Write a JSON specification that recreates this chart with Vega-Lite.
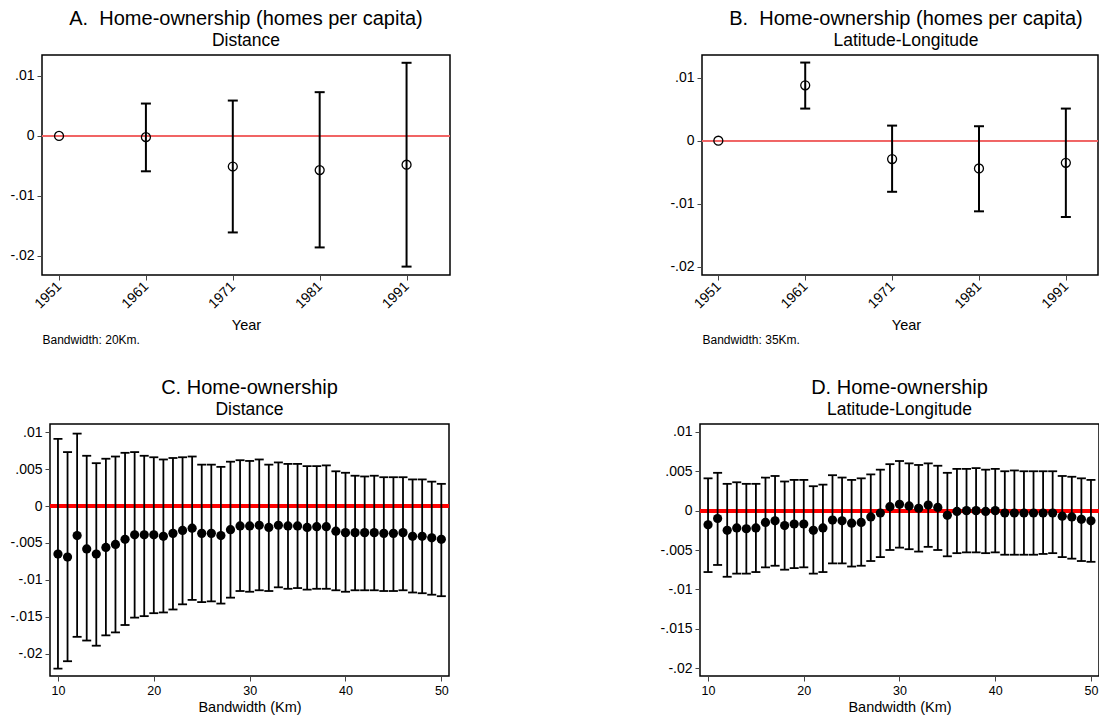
{
  "$schema": "https://vega.github.io/schema/vega-lite/v6.json",
  "padding": {"left": 8, "top": 7, "right": 0, "bottom": 0},
  "background": "white",
  "datasets": {
    "a": [
      {"year": 1951, "b": 0},
      {"year": 1961, "b": -0.0002, "lo": -0.0059, "hi": 0.0054},
      {"year": 1971, "b": -0.0051, "lo": -0.0161, "hi": 0.0059},
      {"year": 1981, "b": -0.0057, "lo": -0.0186, "hi": 0.0073},
      {"year": 1991, "b": -0.0048, "lo": -0.0218, "hi": 0.0122}
    ],
    "bb": [
      {"year": 1951, "b": 0},
      {"year": 1961, "b": 0.0088, "lo": 0.0051, "hi": 0.0124},
      {"year": 1971, "b": -0.0029, "lo": -0.0081, "hi": 0.0024},
      {"year": 1981, "b": -0.0044, "lo": -0.0112, "hi": 0.0023},
      {"year": 1991, "b": -0.0035, "lo": -0.0121, "hi": 0.0051}
    ],
    "c": [
      {"bw": 10, "b": -0.0065, "lo": -0.0220, "hi": 0.0091},
      {"bw": 11, "b": -0.0069, "lo": -0.0210, "hi": 0.0073},
      {"bw": 12, "b": -0.0040, "lo": -0.0177, "hi": 0.0098},
      {"bw": 13, "b": -0.0058, "lo": -0.0182, "hi": 0.0068},
      {"bw": 14, "b": -0.0065, "lo": -0.0189, "hi": 0.0058},
      {"bw": 15, "b": -0.0056, "lo": -0.0175, "hi": 0.0064},
      {"bw": 16, "b": -0.0052, "lo": -0.0171, "hi": 0.0067},
      {"bw": 17, "b": -0.0045, "lo": -0.0161, "hi": 0.0072},
      {"bw": 18, "b": -0.0039, "lo": -0.0151, "hi": 0.0073},
      {"bw": 19, "b": -0.0039, "lo": -0.0149, "hi": 0.0068},
      {"bw": 20, "b": -0.0039, "lo": -0.0145, "hi": 0.0066},
      {"bw": 21, "b": -0.0041, "lo": -0.0144, "hi": 0.0063},
      {"bw": 22, "b": -0.0037, "lo": -0.0140, "hi": 0.0065},
      {"bw": 23, "b": -0.0033, "lo": -0.0133, "hi": 0.0066},
      {"bw": 24, "b": -0.0030, "lo": -0.0127, "hi": 0.0067},
      {"bw": 25, "b": -0.0037, "lo": -0.0130, "hi": 0.0056},
      {"bw": 26, "b": -0.0037, "lo": -0.0129, "hi": 0.0056},
      {"bw": 27, "b": -0.0040, "lo": -0.0132, "hi": 0.0053},
      {"bw": 28, "b": -0.0032, "lo": -0.0124, "hi": 0.0060},
      {"bw": 29, "b": -0.0027, "lo": -0.0115, "hi": 0.0062},
      {"bw": 30, "b": -0.0027, "lo": -0.0116, "hi": 0.0061},
      {"bw": 31, "b": -0.0026, "lo": -0.0114, "hi": 0.0063},
      {"bw": 32, "b": -0.0029, "lo": -0.0115, "hi": 0.0056},
      {"bw": 33, "b": -0.0026, "lo": -0.0110, "hi": 0.0059},
      {"bw": 34, "b": -0.0027, "lo": -0.0112, "hi": 0.0057},
      {"bw": 35, "b": -0.0027, "lo": -0.0111, "hi": 0.0057},
      {"bw": 36, "b": -0.0029, "lo": -0.0113, "hi": 0.0054},
      {"bw": 37, "b": -0.0028, "lo": -0.0112, "hi": 0.0054},
      {"bw": 38, "b": -0.0028, "lo": -0.0112, "hi": 0.0055},
      {"bw": 39, "b": -0.0034, "lo": -0.0114, "hi": 0.0047},
      {"bw": 40, "b": -0.0036, "lo": -0.0116, "hi": 0.0045},
      {"bw": 41, "b": -0.0036, "lo": -0.0114, "hi": 0.0041},
      {"bw": 42, "b": -0.0036, "lo": -0.0114, "hi": 0.0040},
      {"bw": 43, "b": -0.0036, "lo": -0.0114, "hi": 0.0041},
      {"bw": 44, "b": -0.0037, "lo": -0.0115, "hi": 0.0039},
      {"bw": 45, "b": -0.0037, "lo": -0.0115, "hi": 0.0039},
      {"bw": 46, "b": -0.0036, "lo": -0.0114, "hi": 0.0039},
      {"bw": 47, "b": -0.0041, "lo": -0.0117, "hi": 0.0036},
      {"bw": 48, "b": -0.0041, "lo": -0.0118, "hi": 0.0036},
      {"bw": 49, "b": -0.0043, "lo": -0.0120, "hi": 0.0033},
      {"bw": 50, "b": -0.0045, "lo": -0.0122, "hi": 0.0030}
    ],
    "d": [
      {"bw": 10, "b": -0.0018, "lo": -0.0078, "hi": 0.0041},
      {"bw": 11, "b": -0.0010, "lo": -0.0069, "hi": 0.0048},
      {"bw": 12, "b": -0.0025, "lo": -0.0084, "hi": 0.0034},
      {"bw": 13, "b": -0.0022, "lo": -0.0080, "hi": 0.0036},
      {"bw": 14, "b": -0.0023, "lo": -0.0080, "hi": 0.0034},
      {"bw": 15, "b": -0.0022, "lo": -0.0078, "hi": 0.0034},
      {"bw": 16, "b": -0.0015, "lo": -0.0072, "hi": 0.0042},
      {"bw": 17, "b": -0.0013, "lo": -0.0070, "hi": 0.0044},
      {"bw": 18, "b": -0.0019, "lo": -0.0075, "hi": 0.0037},
      {"bw": 19, "b": -0.0017, "lo": -0.0073, "hi": 0.0039},
      {"bw": 20, "b": -0.0017, "lo": -0.0072, "hi": 0.0039},
      {"bw": 21, "b": -0.0025, "lo": -0.0080, "hi": 0.0031},
      {"bw": 22, "b": -0.0022, "lo": -0.0078, "hi": 0.0033},
      {"bw": 23, "b": -0.0012, "lo": -0.0067, "hi": 0.0045},
      {"bw": 24, "b": -0.0013, "lo": -0.0067, "hi": 0.0042},
      {"bw": 25, "b": -0.0016, "lo": -0.0071, "hi": 0.0039},
      {"bw": 26, "b": -0.0015, "lo": -0.0070, "hi": 0.0041},
      {"bw": 27, "b": -0.0008, "lo": -0.0064, "hi": 0.0046},
      {"bw": 28, "b": -0.0003, "lo": -0.0059, "hi": 0.0052},
      {"bw": 29, "b": 0.0005, "lo": -0.0050, "hi": 0.0059},
      {"bw": 30, "b": 0.0008, "lo": -0.0047, "hi": 0.0063},
      {"bw": 31, "b": 0.0006, "lo": -0.0049, "hi": 0.0060},
      {"bw": 32, "b": 0.0003, "lo": -0.0052, "hi": 0.0058},
      {"bw": 33, "b": 0.0007, "lo": -0.0046, "hi": 0.0060},
      {"bw": 34, "b": 0.0004, "lo": -0.0050, "hi": 0.0057},
      {"bw": 35, "b": -0.0006, "lo": -0.0058, "hi": 0.0048},
      {"bw": 36, "b": -0.0001, "lo": -0.0054, "hi": 0.0053},
      {"bw": 37, "b": 0.0000, "lo": -0.0053, "hi": 0.0053},
      {"bw": 38, "b": 0.0000, "lo": -0.0053, "hi": 0.0054},
      {"bw": 39, "b": -0.0001, "lo": -0.0054, "hi": 0.0052},
      {"bw": 40, "b": 0.0000, "lo": -0.0053, "hi": 0.0053},
      {"bw": 41, "b": -0.0003, "lo": -0.0056, "hi": 0.0050},
      {"bw": 42, "b": -0.0003, "lo": -0.0056, "hi": 0.0051},
      {"bw": 43, "b": -0.0003, "lo": -0.0056, "hi": 0.0050},
      {"bw": 44, "b": -0.0003, "lo": -0.0056, "hi": 0.0050},
      {"bw": 45, "b": -0.0003, "lo": -0.0055, "hi": 0.0050},
      {"bw": 46, "b": -0.0003, "lo": -0.0054, "hi": 0.0050},
      {"bw": 47, "b": -0.0007, "lo": -0.0059, "hi": 0.0044},
      {"bw": 48, "b": -0.0008, "lo": -0.0061, "hi": 0.0043},
      {"bw": 49, "b": -0.0011, "lo": -0.0064, "hi": 0.0041},
      {"bw": 50, "b": -0.0013, "lo": -0.0065, "hi": 0.0039}
    ]
  },
  "vconcat": [
    {
      "hconcat": [
        {"width": 1, "height": 1, "view": {"stroke": null}, "data": {"values": []}, "mark": "point", "encoding": {}},
        {
          "hconcat": [
            {
              "width": 408, "height": 220,
              "title": {"text": "A.\u00a0\u00a0Home-ownership (homes per capita)", "subtitle": "Distance"},
              "data": {"name": "a"},
              "layer": [
                {
                  "layer": [
                    {"mark": {"type": "rule", "color": "#f06464", "strokeWidth": 1.5},
                     "encoding": {"y": {"datum": 0, "type": "quantitative",
                       "scale": {"domain": [-0.0232, 0.0135], "nice": false, "zero": false},
                       "axis": {"values": [-0.02, -0.01, 0, 0.01], "title": null,
                         "labelExpr": "datum.value == 0 ? '0' : (datum.value < 0 ? '-' : '') + replace(format(abs(datum.value), '~g'), '0.', '.')"}}}},
                    {"transform": [{"filter": "isValid(datum.lo)"}],
                     "mark": {"type": "rule", "color": "black", "strokeWidth": 2},
                     "encoding": {"x": {"field": "year", "type": "quantitative"}, "y": {"field": "lo", "type": "quantitative"}, "y2": {"field": "hi"}}},
                    {"transform": [{"filter": "isValid(datum.lo)"}],
                     "mark": {"type": "tick", "orient": "horizontal", "size": 10, "thickness": 2, "color": "black", "opacity": 1},
                     "encoding": {"x": {"field": "year", "type": "quantitative"}, "y": {"field": "lo", "type": "quantitative"}}},
                    {"mark": {"type": "point", "shape": "circle", "filled": false, "stroke": "black", "strokeWidth": 1.3, "size": 80, "opacity": 1},
                     "encoding": {"x": {"field": "year", "type": "quantitative",
                       "scale": {"domain": [1949.04, 1996], "nice": false, "zero": false},
                       "axis": {"values": [1951, 1961, 1971, 1981, 1991], "format": "d", "labelAngle": -45, "labelAlign": "right", "labelBaseline": "middle", "labelPadding": 4, "title": "Year", "titlePadding": 8}},
                       "y": {"field": "b", "type": "quantitative"}}}
                  ]
                },
                {"transform": [{"filter": "isValid(datum.hi)"}],
                 "mark": {"type": "tick", "orient": "horizontal", "size": 10, "thickness": 2, "color": "black", "opacity": 1},
                 "encoding": {"x": {"field": "year", "type": "quantitative",
                   "scale": {"domain": [1949.04, 1996], "nice": false, "zero": false},
                   "axis": {"orient": "bottom", "labels": false, "ticks": false, "domain": false, "offset": 59, "title": "Bandwidth: 20Km.", "titleAnchor": "start", "titleFontSize": 12, "titlePadding": 0}},
                   "y": {"field": "hi", "type": "quantitative"}}}
              ],
              "resolve": {"scale": {"x": "independent"}, "axis": {"x": "independent"}}
            },
            {
              "width": 396, "height": 220,
              "title": {"text": "B.\u00a0\u00a0Home-ownership (homes per capita)", "subtitle": "Latitude-Longitude", "dx": 6},
              "data": {"name": "bb"},
              "layer": [
                {
                  "layer": [
                    {"mark": {"type": "rule", "color": "#f06464", "strokeWidth": 1.5},
                     "encoding": {"y": {"datum": 0, "type": "quantitative",
                       "scale": {"domain": [-0.0213, 0.0136], "nice": false, "zero": false},
                       "axis": {"values": [-0.02, -0.01, 0, 0.01], "title": null,
                         "labelExpr": "datum.value == 0 ? '0' : (datum.value < 0 ? '-' : '') + replace(format(abs(datum.value), '~g'), '0.', '.')"}}}},
                    {"transform": [{"filter": "isValid(datum.lo)"}],
                     "mark": {"type": "rule", "color": "black", "strokeWidth": 2},
                     "encoding": {"x": {"field": "year", "type": "quantitative"}, "y": {"field": "lo", "type": "quantitative"}, "y2": {"field": "hi"}}},
                    {"transform": [{"filter": "isValid(datum.lo)"}],
                     "mark": {"type": "tick", "orient": "horizontal", "size": 10, "thickness": 2, "color": "black", "opacity": 1},
                     "encoding": {"x": {"field": "year", "type": "quantitative"}, "y": {"field": "lo", "type": "quantitative"}}},
                    {"mark": {"type": "point", "shape": "circle", "filled": false, "stroke": "black", "strokeWidth": 1.3, "size": 80, "opacity": 1},
                     "encoding": {"x": {"field": "year", "type": "quantitative",
                       "scale": {"domain": [1949.12, 1994.7], "nice": false, "zero": false},
                       "axis": {"values": [1951, 1961, 1971, 1981, 1991], "format": "d", "labelAngle": -45, "labelAlign": "right", "labelBaseline": "middle", "labelPadding": 4, "title": "Year", "titlePadding": 8, "titleX": 204}},
                       "y": {"field": "b", "type": "quantitative"}}}
                  ]
                },
                {"transform": [{"filter": "isValid(datum.hi)"}],
                 "mark": {"type": "tick", "orient": "horizontal", "size": 10, "thickness": 2, "color": "black", "opacity": 1},
                 "encoding": {"x": {"field": "year", "type": "quantitative",
                   "scale": {"domain": [1949.12, 1994.7], "nice": false, "zero": false},
                   "axis": {"orient": "bottom", "labels": false, "ticks": false, "domain": false, "offset": 59, "title": "Bandwidth: 35Km.", "titleAnchor": "start", "titleFontSize": 12, "titlePadding": 0}},
                   "y": {"field": "hi", "type": "quantitative"}}}
              ],
              "resolve": {"scale": {"x": "independent"}, "axis": {"x": "independent"}}
            }
          ],
          "spacing": 217
        }
      ],
      "spacing": 0
    },
    {
      "hconcat": [
        {"width": 1, "height": 1, "view": {"stroke": null}, "data": {"values": []}, "mark": "point", "encoding": {}},
        {
          "hconcat": [
            {
              "width": 399, "height": 252,
              "title": {"text": "C. Home-ownership", "subtitle": "Distance"},
              "data": {"name": "c"},
              "encoding": {"x": {"field": "bw", "type": "quantitative",
                "scale": {"domain": [9.17, 50.8], "nice": false, "zero": false},
                "axis": {"values": [10, 20, 30, 40, 50], "labelFontSize": 12.5, "title": "Bandwidth (Km)", "titlePadding": 4}}},
              "layer": [
                {"mark": {"type": "rule", "color": "#ff0000", "strokeWidth": 3.5},
                 "encoding": {"x": null, "y": {"datum": 0, "type": "quantitative",
                   "scale": {"domain": [-0.0230, 0.0111], "nice": false, "zero": false},
                   "axis": {"values": [-0.02, -0.015, -0.01, -0.005, 0, 0.005, 0.01], "title": null,
                     "labelExpr": "datum.value == 0 ? '0' : (datum.value < 0 ? '-' : '') + replace(format(abs(datum.value), '~g'), '0.', '.')"}}}},
                {"mark": {"type": "rule", "color": "black", "strokeWidth": 1.8},
                 "encoding": {"y": {"field": "lo", "type": "quantitative"}, "y2": {"field": "hi"}}},
                {"mark": {"type": "tick", "orient": "horizontal", "size": 9, "thickness": 1.8, "color": "black", "opacity": 1},
                 "encoding": {"y": {"field": "lo", "type": "quantitative"}}},
                {"mark": {"type": "tick", "orient": "horizontal", "size": 9, "thickness": 1.8, "color": "black", "opacity": 1},
                 "encoding": {"y": {"field": "hi", "type": "quantitative"}}},
                {"mark": {"type": "circle", "color": "black", "size": 85, "opacity": 1},
                 "encoding": {"y": {"field": "b", "type": "quantitative"}}}
              ]
            },
            {
              "width": 399, "height": 252,
              "title": {"text": "D. Home-ownership", "subtitle": "Latitude-Longitude"},
              "data": {"name": "d"},
              "encoding": {"x": {"field": "bw", "type": "quantitative",
                "scale": {"domain": [9.16, 50.84], "nice": false, "zero": false},
                "axis": {"values": [10, 20, 30, 40, 50], "labelFontSize": 12.5, "title": "Bandwidth (Km)", "titlePadding": 4}}},
              "layer": [
                {"mark": {"type": "rule", "color": "#ff0000", "strokeWidth": 3.5},
                 "encoding": {"x": null, "y": {"datum": 0, "type": "quantitative",
                   "scale": {"domain": [-0.0210, 0.0110], "nice": false, "zero": false},
                   "axis": {"values": [-0.02, -0.015, -0.01, -0.005, 0, 0.005, 0.01], "title": null,
                     "labelExpr": "datum.value == 0 ? '0' : (datum.value < 0 ? '-' : '') + replace(format(abs(datum.value), '~g'), '0.', '.')"}}}},
                {"mark": {"type": "rule", "color": "black", "strokeWidth": 1.8},
                 "encoding": {"y": {"field": "lo", "type": "quantitative"}, "y2": {"field": "hi"}}},
                {"mark": {"type": "tick", "orient": "horizontal", "size": 9, "thickness": 1.8, "color": "black", "opacity": 1},
                 "encoding": {"y": {"field": "lo", "type": "quantitative"}}},
                {"mark": {"type": "tick", "orient": "horizontal", "size": 9, "thickness": 1.8, "color": "black", "opacity": 1},
                 "encoding": {"y": {"field": "hi", "type": "quantitative"}}},
                {"mark": {"type": "circle", "color": "black", "size": 85, "opacity": 1},
                 "encoding": {"y": {"field": "b", "type": "quantitative"}}}
              ]
            }
          ],
          "spacing": 207
        }
      ],
      "spacing": 0
    }
  ],
  "spacing": 30,
  "config": {
    "font": "Liberation Sans",
    "view": {"stroke": "black", "strokeWidth": 1.5},
    "axis": {"grid": false, "domain": false, "tickColor": "#444", "tickSize": 5, "tickWidth": 1,
      "labelColor": "black", "labelFontSize": 14, "labelPadding": 3,
      "titleFontSize": 14.5, "titleFontWeight": "normal", "titleColor": "black"},
    "title": {"fontSize": 20, "fontWeight": "normal", "color": "black", "subtitleFontSize": 17.5, "subtitleColor": "black", "anchor": "middle", "offset": 6, "subtitlePadding": 3}
  }
}
